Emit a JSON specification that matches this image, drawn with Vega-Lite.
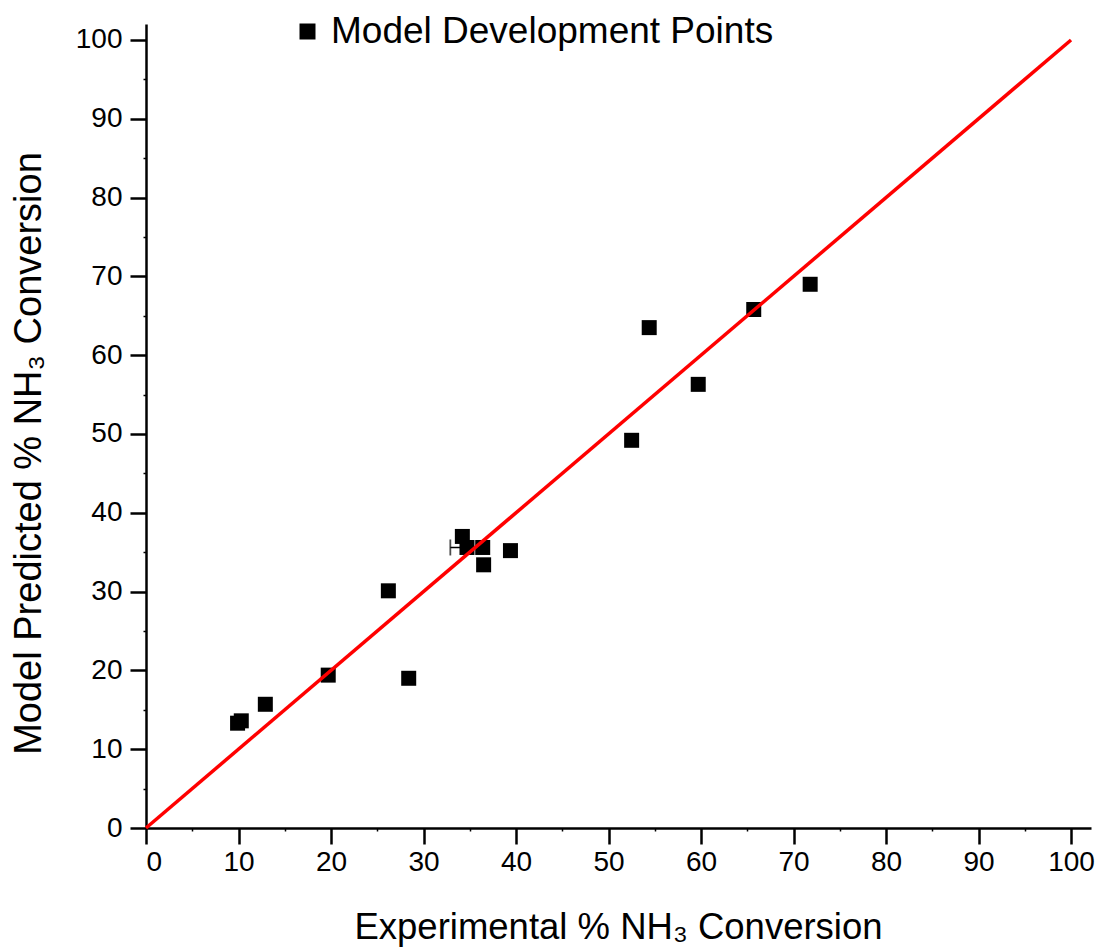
{
  "$schema": "https://vega.github.io/schema/vega-lite/v6.json",
  "width": 945,
  "height": 804,
  "autosize": {"type": "none"},
  "padding": {"left": 146, "top": 24, "right": 12, "bottom": 124},
  "background": "white",
  "config": {
    "view": {"stroke": null},
    "font": "Liberation Sans",
    "axis": {
      "grid": false,
      "domainColor": "black",
      "domainWidth": 2.5,
      "tickColor": "black",
      "tickWidth": 2.5,
      "labelColor": "black",
      "titleColor": "black",
      "labelFont": "Liberation Sans",
      "titleFont": "Liberation Sans",
      "titleFontWeight": "normal",
      "labelFontSize": 28
    }
  },
  "datasets": {
    "points": [
      {"experimental": 9.9, "predicted": 13.3, "series": "Model Development Points"},
      {"experimental": 10.3, "predicted": 13.6, "series": "Model Development Points"},
      {"experimental": 12.9, "predicted": 15.7, "series": "Model Development Points"},
      {"experimental": 19.7, "predicted": 19.4, "series": "Model Development Points"},
      {"experimental": 26.2, "predicted": 30.1, "series": "Model Development Points"},
      {"experimental": 28.4, "predicted": 19.0, "series": "Model Development Points"},
      {"experimental": 34.2, "predicted": 37.0, "series": "Model Development Points"},
      {"experimental": 34.7, "predicted": 35.6, "series": "Model Development Points"},
      {"experimental": 36.4, "predicted": 35.6, "series": "Model Development Points"},
      {"experimental": 36.5, "predicted": 33.4, "series": "Model Development Points"},
      {"experimental": 39.4, "predicted": 35.2, "series": "Model Development Points"},
      {"experimental": 52.5, "predicted": 49.2, "series": "Model Development Points"},
      {"experimental": 54.4, "predicted": 63.5, "series": "Model Development Points"},
      {"experimental": 59.7, "predicted": 56.3, "series": "Model Development Points"},
      {"experimental": 65.7, "predicted": 65.8, "series": "Model Development Points"},
      {"experimental": 71.8, "predicted": 69.0, "series": "Model Development Points"}
    ],
    "parity": [
      {"experimental": 0, "predicted": 0},
      {"experimental": 100, "predicted": 100}
    ],
    "errorbar": [
      {"lo": 32.9, "hi": 36.5, "predicted": 35.6}
    ]
  },
  "resolve": {"axis": {"x": "independent", "y": "independent"}},
  "layer": [
    {
      "data": {"name": "errorbar"},
      "mark": {"type": "rule", "color": "black", "strokeWidth": 1.5},
      "encoding": {
        "x": {"field": "lo", "type": "quantitative", "scale": {"domain": [0, 102.16], "nice": false, "zero": false}, "axis": {"orient": "bottom", "values": [5, 15, 25, 35, 45, 55, 65, 75, 85, 95], "labels": false, "domain": false, "tickSize": 3, "tickWidth": 1.5, "title": null}},
        "x2": {"field": "hi"},
        "y": {"field": "predicted", "type": "quantitative", "scale": {"domain": [0, 102.03], "nice": false, "zero": false}, "axis": {"orient": "left", "values": [5, 15, 25, 35, 45, 55, 65, 75, 85, 95], "labels": false, "domain": false, "tickSize": 3, "tickWidth": 1.5, "title": null}}
      }
    },
    {
      "data": {"name": "errorbar"},
      "mark": {"type": "tick", "orient": "vertical", "color": "black", "size": 16, "thickness": 1.8},
      "encoding": {
        "x": {"field": "lo", "type": "quantitative", "axis": null},
        "y": {"field": "predicted", "type": "quantitative", "axis": null}
      }
    },
    {
      "data": {"name": "points"},
      "mark": {"type": "point", "shape": "square", "filled": true, "size": 225, "opacity": 1},
      "encoding": {
        "x": {"field": "experimental", "type": "quantitative", "axis": {"orient": "bottom", "values": [0, 10, 20, 30, 40, 50, 60, 70, 80, 90, 100], "tickSize": 16, "labelPadding": 4, "title": "Experimental % NH₃ Conversion", "titleFontSize": 36.5, "titleX": 472, "titleY": 110, "titleBaseline": "alphabetic", "titleAnchor": "middle"}},
        "y": {"field": "predicted", "type": "quantitative", "axis": {"orient": "left", "values": [0, 10, 20, 30, 40, 50, 60, 70, 80, 90, 100], "tickSize": 16, "labelPadding": 8, "title": "Model Predicted % NH₃ Conversion", "titleFontSize": 38, "titleX": -106, "titleY": 429, "titleBaseline": "alphabetic", "titleAngle": 270}},
        "color": {
          "field": "series",
          "type": "nominal",
          "scale": {"range": ["black"]},
          "legend": {
            "orient": "none",
            "legendX": 143,
            "legendY": -11,
            "padding": 0,
            "title": null,
            "labelFont": "Liberation Sans",
            "labelFontSize": 37,
            "labelLimit": 0,
            "labelColor": "black",
            "labelOffset": 5,
            "symbolType": "square",
            "symbolSize": 256,
            "symbolFillColor": "black",
            "symbolStrokeColor": "black",
            "symbolStrokeWidth": 0,
            "symbolOpacity": 1
          }
        }
      }
    },
    {
      "data": {"name": "parity"},
      "mark": {"type": "line", "color": "#ff0000", "strokeWidth": 3.5, "clip": false},
      "encoding": {
        "x": {"field": "experimental", "type": "quantitative", "axis": null},
        "y": {"field": "predicted", "type": "quantitative", "axis": null}
      }
    }
  ]
}
